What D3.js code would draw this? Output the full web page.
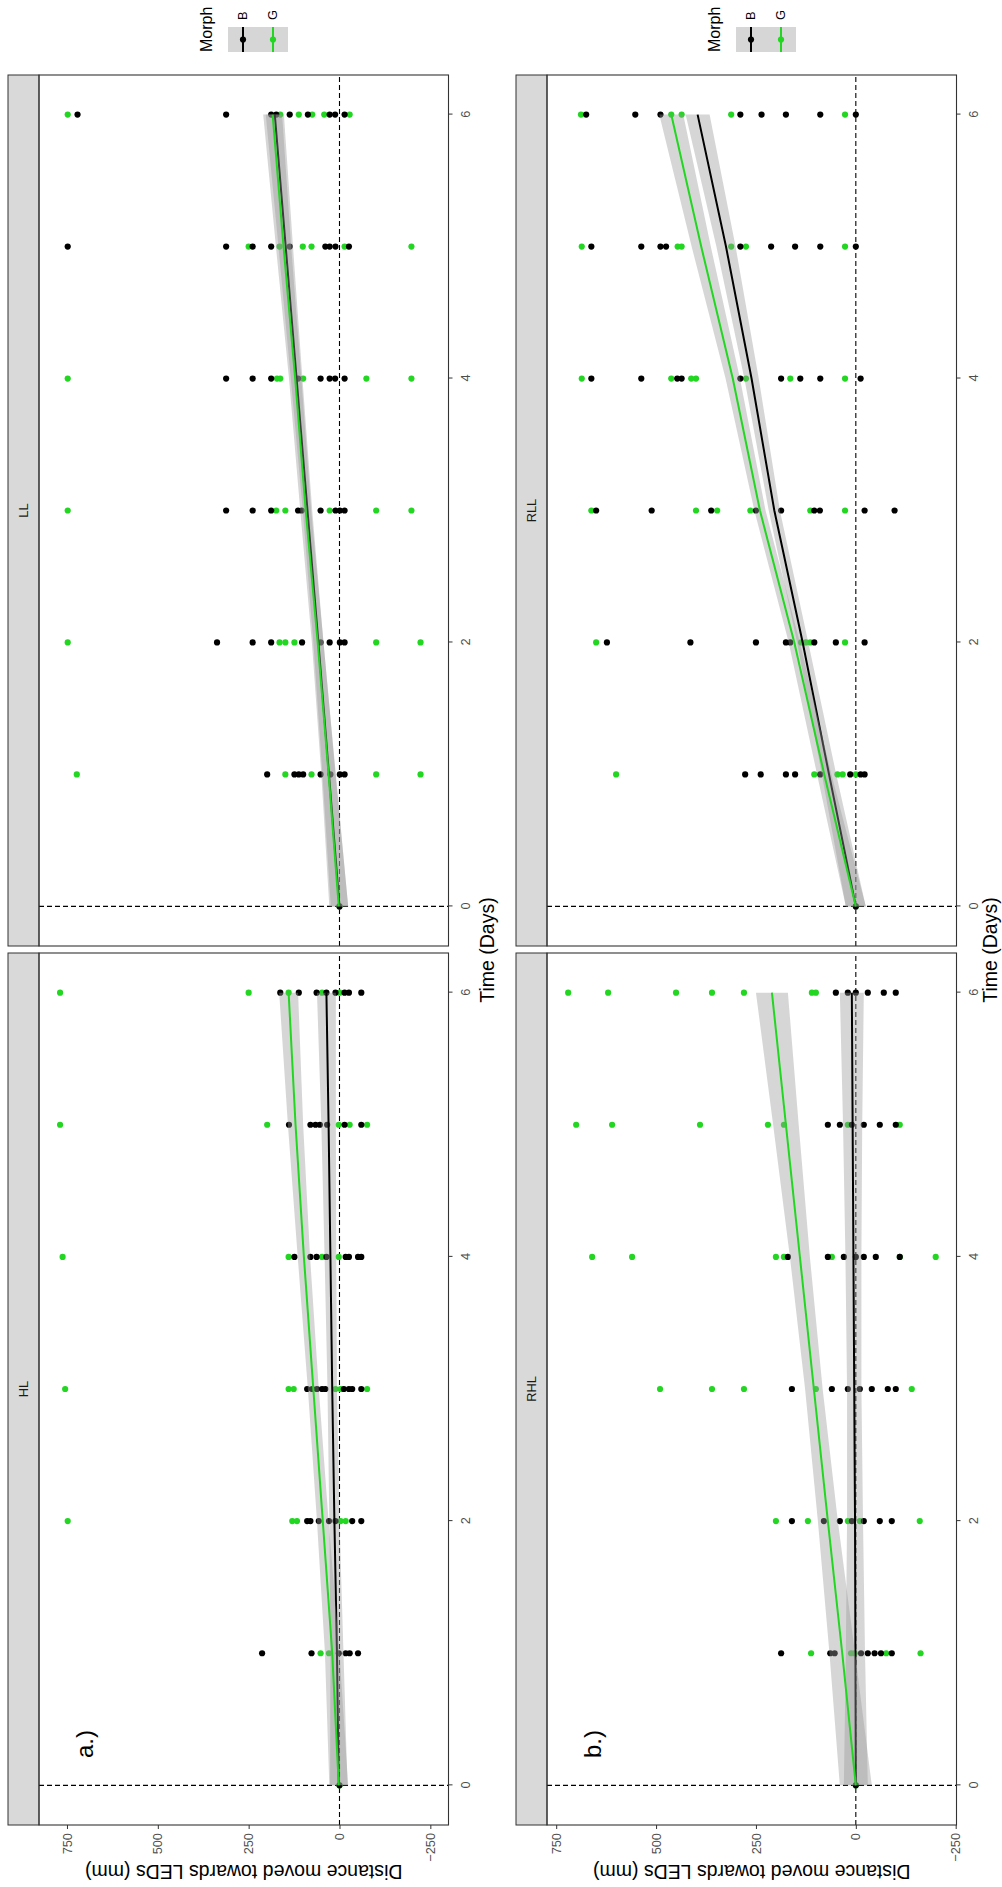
<!DOCTYPE html>
<html>
<head>
<meta charset="utf-8">
<script src="https://cdn.jsdelivr.net/npm/d3@7"></script>
<style>
  body { margin: 0; background: #fff; }
  svg { display: block; }
  text { font-family: "Liberation Sans", Arial, Helvetica, sans-serif; }
</style>
</head>
<body>
<script>
// ---- data -------------------------------------------------------------
const days = [0, 1, 2, 3, 4, 5, 6];
const timeTicks = [0, 2, 4, 6];
const distTicks = [-250, 0, 250, 500, 750];
const morphs = ["B", "G"];

// distance moved per individual (mm), one list per day 0..6
const hlB = [[0], [213, 77, 2, -17, -28, -51], [89, 80, 57, 29, 11, -35, -60],
  [89, 75, 62, 48, 39, -12, -26, -35, -60], [124, 80, 63, 36, -17, -26, -51, -60],
  [139, 80, 66, 54, 34, -14, -60], [163, 112, 63, 36, 11, -14, -26, -60]];
const hlG = [[0], [52, 29], [748, 130, 117, -3, -17], [755, 140, 126, 11, -3, -76],
  [762, 140, 48, 2], [769, 199, 2, -28, -76], [769, 250, 140, 48, -1]];
const llB = [[0], [199, 124, 112, 100, 52, 25, -1, -14], [337, 239, 188, 103, 52, 27, -1, -14],
  [312, 239, 188, 114, 104, 52, 11, -1, -14], [312, 239, 188, 114, 52, 27, 12, -14],
  [748, 312, 239, 188, 137, 39, 27, 11, -26], [721, 312, 188, 174, 137, 87, 27, 12, -14]];
const llG = [[0], [723, 149, 77, -101, -223], [748, 165, 149, 124, -101, -223],
  [748, 174, 149, 27, -101, -198], [748, 172, 163, 100, -74, -198],
  [250, 165, 101, 77, -14, -198], [748, 163, 112, 75, 42, -28]];
const rhlB = [[0], [187, 64, 53, -13, -30, -47, -63, -90], [160, 80, 40, 10, -20, -60, -90],
  [160, 60, 20, -10, -40, -80, -100], [170, 70, 30, 0, -20, -50, -110],
  [70, 40, 10, -20, -60, -100], [50, 20, 0, -30, -70, -100]];
const rhlG = [[0], [112, 12, 3, -76, -162], [200, 120, 20, -10, -160],
  [490, 360, 280, 100, -140], [660, 560, 200, 180, 60, -110, -200],
  [700, 610, 390, 220, 180, 20, -110], [720, 620, 450, 360, 280, 110, 100]];
const rllB = [[0], [277, 238, 175, 152, 89, 14, -12, -22], [623, 414, 250, 175, 164, 104, 50, -22],
  [650, 511, 362, 250, 187, 104, 90, -22, -97], [662, 537, 447, 436, 289, 187, 139, 89, -12],
  [662, 537, 489, 475, 289, 212, 152, 89, 0], [675, 552, 489, 289, 236, 175, 89, 0]];
const rllG = [[0], [600, 104, 46, 33, 0], [650, 137, 125, 114, 27],
  [662, 400, 347, 264, 114, 27], [686, 462, 412, 400, 275, 164, 27],
  [686, 446, 436, 312, 275, 27], [688, 462, 436, 312, 27]];

// fitted trend (mm) and its standard-error half width, days 0..6
const hlFitB = [2, 7, 14, 20, 25, 30, 36];
const hlFitG = [2, 20, 46, 72, 98, 121, 140];
const hlSeB = [24, 18, 14, 13, 16, 20, 26];
const hlSeG = [26, 20, 16, 15, 17, 21, 26];
const llFitB = [0, 29, 58, 88, 118, 148, 178];
const llFitG = [2, 30, 60, 93, 122, 154, 184];
const llSeB = [24, 18, 14, 13, 16, 20, 25];
const llSeG = [26, 20, 16, 15, 17, 21, 26];
const rhlFitB = [0, 1, 2, 4, 6, 8, 10];
const rhlFitG = [0, 34, 70, 105, 140, 175, 210];
const rhlSeB = [30, 24, 20, 18, 20, 24, 30];
const rhlSeG = [40, 32, 25, 22, 25, 32, 40];
const rllFitB = [0, 67, 133, 204, 261, 325, 396];
const rllFitG = [0, 79, 154, 240, 308, 387, 462];
const rllSeB = [25, 18, 14, 14, 18, 24, 30];
const rllSeG = [25, 18, 14, 14, 18, 24, 30];

// ---- layout -----------------------------------------------------------
const W = 1002, H = 1887;
const colors = { B: "#000000", G: "#22d622" };
const stripTop = 8, plotTop = 39, plotBottom = 448.5;
const panelSpans = [[62, 934], [941, 1812]];

const figures = [
  { tx: 0, tag: "a.)", distDomain: [-300, 827], timeTitleY: 487,
    panels: [
      { name: "HL", pts: { B: hlB, G: hlG }, fit: { B: hlFitB, G: hlFitG }, se: { B: hlSeB, G: hlSeG } },
      { name: "LL", pts: { B: llB, G: llG }, fit: { B: llFitB, G: llFitG }, se: { B: llSeB, G: llSeG } }
    ] },
  { tx: 508, tag: "b.)", distDomain: [-252, 773], timeTitleY: 482,
    panels: [
      { name: "RHL", pts: { B: rhlB, G: rhlG }, fit: { B: rhlFitB, G: rhlFitG }, se: { B: rhlSeB, G: rhlSeG } },
      { name: "RLL", pts: { B: rllB, G: rllG }, fit: { B: rllFitB, G: rllFitG }, se: { B: rllSeB, G: rllSeG } }
    ] }
];

const svg = d3.select("body").append("svg")
  .attr("width", W).attr("height", H)
  .attr("viewBox", `0 0 ${W} ${H}`);

svg.append("rect").attr("width", W).attr("height", H).attr("fill", "#fff");

figures.forEach((fig, fi) => {
  // each figure is laid out landscape and turned a quarter turn anticlockwise
  const g = svg.append("g").attr("transform", `translate(${fig.tx},${H}) rotate(-90)`);
  const y = d3.scaleLinear().domain(fig.distDomain).range([plotBottom, plotTop]);

  fig.panels.forEach((p, i) => {
    const [x0, x1] = panelSpans[i];
    const x = d3.scaleLinear().domain([-0.3, 6.3]).range([x0, x1]);
    const pg = g.append("g");
    const clipId = `clip-${fi}-${i}`;
    pg.append("clipPath").attr("id", clipId).append("rect")
      .attr("x", x0).attr("y", plotTop).attr("width", x1 - x0).attr("height", plotBottom - plotTop);

    // facet strip
    pg.append("rect").attr("x", x0).attr("y", stripTop)
      .attr("width", x1 - x0).attr("height", plotTop - stripTop)
      .attr("fill", "#d9d9d9").attr("stroke", "#333").attr("stroke-width", 1);
    pg.append("text").attr("x", (x0 + x1) / 2).attr("y", (stripTop + plotTop) / 2)
      .attr("dy", "0.35em").attr("text-anchor", "middle")
      .attr("font-size", 12.8).attr("fill", "#1a1a1a").text(p.name);

    const body = pg.append("g").attr("clip-path", `url(#${clipId})`);

    // reference lines at day 0 and zero distance
    body.append("line").attr("x1", x(0)).attr("x2", x(0)).attr("y1", plotTop).attr("y2", plotBottom)
      .attr("stroke", "#000").attr("stroke-width", 1.1).attr("stroke-dasharray", "5,3");
    body.append("line").attr("x1", x0).attr("x2", x1).attr("y1", y(0)).attr("y2", y(0))
      .attr("stroke", "#000").attr("stroke-width", 1.1).attr("stroke-dasharray", "5,3");

    // individual observations
    ["G", "B"].forEach(m => {
      const flat = [];
      p.pts[m].forEach((vals, d) => vals.forEach(v => flat.push({ day: days[d], v })));
      body.append("g").selectAll("circle").data(flat).join("circle")
        .attr("cx", d => x(d.day)).attr("cy", d => y(d.v)).attr("r", 3.1)
        .attr("fill", colors[m]);
    });

    // fitted trends with confidence bands
    morphs.forEach(m => {
      const rows = days.map((d, k) => ({ day: d, fit: p.fit[m][k], se: p.se[m][k] }));
      body.append("path").datum(rows)
        .attr("d", d3.area().x(d => x(d.day)).y0(d => y(d.fit - d.se)).y1(d => y(d.fit + d.se)))
        .attr("fill", "#999999").attr("fill-opacity", 0.4);
      body.append("path").datum(rows)
        .attr("d", d3.line().x(d => x(d.day)).y(d => y(d.fit)))
        .attr("fill", "none").attr("stroke", colors[m]).attr("stroke-width", 2);
    });

    // panel border
    pg.append("rect").attr("x", x0).attr("y", plotTop)
      .attr("width", x1 - x0).attr("height", plotBottom - plotTop)
      .attr("fill", "none").attr("stroke", "#333").attr("stroke-width", 1.1);

    // time axis
    const ax = pg.append("g").attr("transform", `translate(0,${plotBottom})`)
      .call(d3.axisBottom(x).tickValues(timeTicks).tickFormat(d3.format("d"))
        .tickSize(4).tickPadding(8).tickSizeOuter(0));
    ax.select(".domain").remove();
    ax.selectAll("line").attr("stroke", "#333");
    ax.selectAll("text").attr("fill", "#4d4d4d").attr("font-size", 12.8)
      .attr("font-family", "Liberation Sans, Arial, sans-serif");

    if (i === 0) {
      pg.append("text").attr("x", 143).attr("y", 85).attr("dy", "0.35em")
        .attr("text-anchor", "middle").attr("font-size", 24).attr("fill", "#000").text(fig.tag);
    }
  });

  // distance axis
  const ay = g.append("g").attr("transform", `translate(${panelSpans[0][0]},0)`)
    .call(d3.axisLeft(y).tickValues(distTicks).tickFormat(d3.format("d"))
      .tickSize(4).tickPadding(4).tickSizeOuter(0));
  ay.select(".domain").remove();
  ay.selectAll("line").attr("stroke", "#333");
  ay.selectAll("text").attr("fill", "#4d4d4d").attr("font-size", 12.8)
    .attr("font-family", "Liberation Sans, Arial, sans-serif");

  // axis titles
  g.append("text")
    .attr("transform", `translate(15,${(plotTop + plotBottom) / 2}) rotate(-90)`)
    .attr("dy", "0.35em").attr("text-anchor", "middle").attr("font-size", 19.5).attr("fill", "#000")
    .text("Distance moved towards LEDs (mm)");
  g.append("text")
    .attr("x", (panelSpans[0][0] + panelSpans[1][1]) / 2).attr("y", fig.timeTitleY)
    .attr("dy", "0.35em").attr("text-anchor", "middle").attr("font-size", 19.5).attr("fill", "#000")
    .text("Time (Days)");

  // legend
  const lg = g.append("g");
  lg.append("text").attr("x", 1835).attr("y", 212).attr("font-size", 16).attr("fill", "#000").text("Morph");
  morphs.forEach((m, k) => {
    const ky = 228 + k * 30;
    lg.append("rect").attr("x", 1835).attr("y", ky).attr("width", 25).attr("height", 30)
      .attr("fill", "#999999").attr("fill-opacity", 0.4);
    lg.append("line").attr("x1", 1835).attr("x2", 1860).attr("y1", ky + 15).attr("y2", ky + 15)
      .attr("stroke", colors[m]).attr("stroke-width", 2);
    lg.append("circle").attr("cx", 1847.5).attr("cy", ky + 15).attr("r", 3.1).attr("fill", colors[m]);
    lg.append("text").attr("x", 1867).attr("y", ky + 15).attr("dy", "0.35em")
      .attr("font-size", 12.8).attr("fill", "#000").text(m);
  });
});
</script>
</body>
</html>
